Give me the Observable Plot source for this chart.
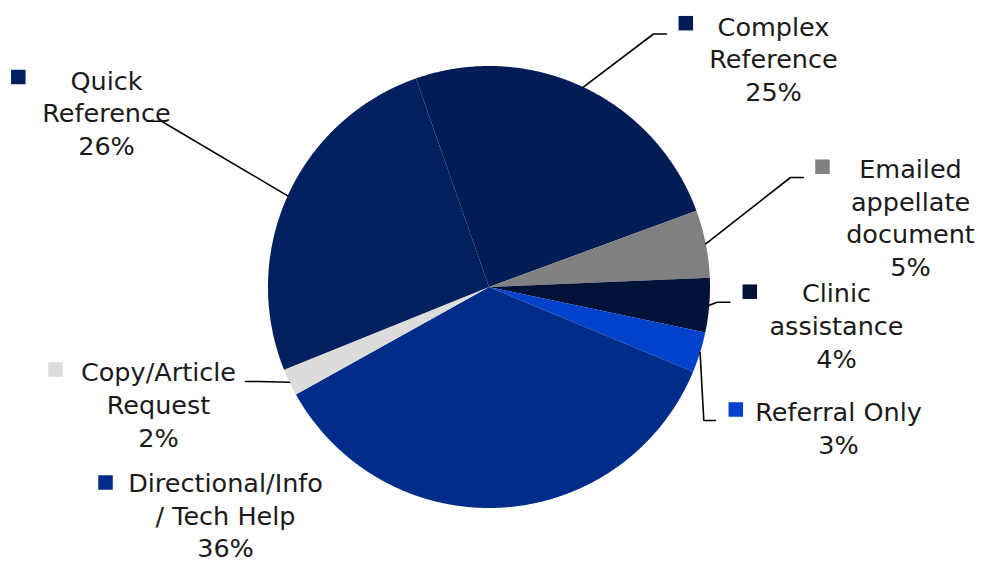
<!DOCTYPE html>
<html><head><meta charset="utf-8">
<script src="https://cdn.jsdelivr.net/npm/d3@7"></script>
<script src="https://cdn.jsdelivr.net/npm/@observablehq/plot@0.6"></script>
<style>body{margin:0;background:#fff;overflow:hidden}</style>
</head><body><div id="chart"></div>
<script>
// ---- data ----
const categories = ["Complex Reference","Emailed appellate document","Clinic assistance","Referral Only","Directional/Info / Tech Help","Copy/Article Request","Quick Reference"];
const shares = [25, 5, 4, 3, 36, 2, 26];
const colors = ["#001d55","#808080","#001238","#0042cc","#002d8a","#dcdcdc","#00205f"];
const labelLines = [["Complex","Reference"],["Emailed","appellate","document"],["Clinic","assistance"],["Referral Only"],["Directional/Info","/ Tech Help"],["Copy/Article","Request"],["Quick","Reference"]];

// ---- layout ----
const W = 982, H = 563, cx = 488.5, cy = 286.5, R = 221, startDeg = -19.3, lineH = 32.7, fontSize = 25.5;
const labelPos = [[773,35],[910,177.3],[836,301.7],[838,420.7],[225,491.5],[158,380.7],[106,89]];
const keyPos = [[685.8,23.2],[822.5,166.7],[749.8,291.7],[735.8,409.5],[105.5,482.5],[55.5,369.5],[18.3,77]];
const keySize = 14.5;
const leaderKnee = [[653,33.5,666],[790,177,803],[716.7,301.7,729.3],[703.3,420,715],null,[257,381,245],[161,120.7,146.7]];

const start = startDeg * Math.PI / 180;
const arcs = d3.pie().sort(null).value(d => d).startAngle(start).endAngle(start + 2 * Math.PI)(shares);
const pt = (a, r) => [cx + r * Math.sin(a), cy - r * Math.cos(a)];

const slicePts = [];
arcs.forEach((a, i) => {
  const name = categories[i];
  slicePts.push({name, x: cx, y: cy});
  const n = Math.max(2, Math.ceil((a.endAngle - a.startAngle) / (0.25 * Math.PI / 180)));
  for (let k = 0; k <= n; k++) {
    const t = a.startAngle + (a.endAngle - a.startAngle) * k / n;
    const [x, y] = pt(t, R);
    slicePts.push({name, x, y});
  }
  slicePts.push({name, x: cx, y: cy});
});

const leaderPts = [];
arcs.forEach((a, i) => {
  const k = leaderKnee[i];
  if (!k) return;
  const mid = (a.startAngle + a.endAngle) / 2;
  const [x0, y0] = pt(mid, R);
  const name = categories[i];
  leaderPts.push({name, x: x0, y: y0}, {name, x: k[0], y: k[1]}, {name, x: k[2], y: k[1]});
});

const keys = categories.map((name, i) => ({name, x1: keyPos[i][0] - keySize/2, x2: keyPos[i][0] + keySize/2, y1: keyPos[i][1] - keySize/2, y2: keyPos[i][1] + keySize/2}));

const textRows = [];
categories.forEach((name, i) => {
  const lines = [...labelLines[i], `${shares[i]}%`];
  lines.forEach((t, j) => textRows.push({name, t, x: labelPos[i][0], y: labelPos[i][1] + j * lineH}));
});

const chart = Plot.plot({
  width: W, height: H, margin: 0,
  style: {background: "white"},
  x: {domain: [0, W], range: [0, W], axis: null},
  y: {domain: [0, H], range: [0, H], axis: null},
  color: {domain: categories, range: colors},
  marks: [
    Plot.line(slicePts, {x: "x", y: "y", z: "name", fill: "name", stroke: "none", curve: "linear"}),
    Plot.line(leaderPts, {x: "x", y: "y", z: "name", stroke: "black", strokeWidth: 1.6, fill: "none"}),
    Plot.rect(keys, {x1: "x1", x2: "x2", y1: "y1", y2: "y2", fill: "name"}),
    Plot.text(textRows, {x: "x", y: "y", text: "t", textAnchor: "middle", lineAnchor: "bottom", fontSize, fontFamily: "DejaVu Sans", fill: "#1a1a1a"})
  ]
});
document.getElementById("chart").appendChild(chart);
</script>
</body></html>
